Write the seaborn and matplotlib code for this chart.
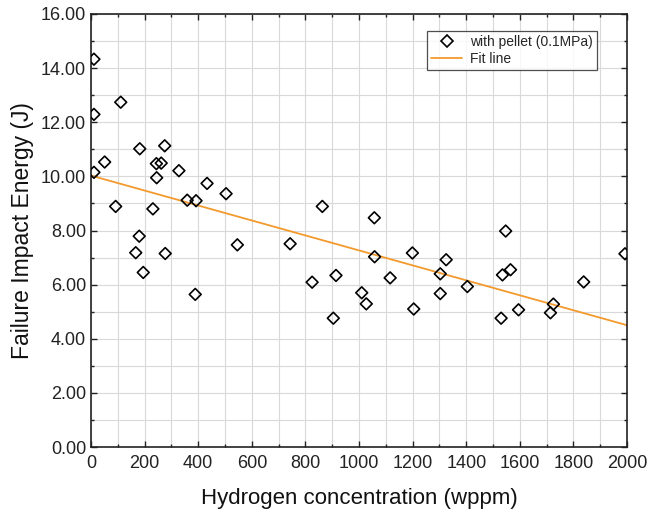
import matplotlib
matplotlib.use("Agg")
import matplotlib.pyplot as plt
from matplotlib.lines import Line2D
from matplotlib.ticker import MultipleLocator, FormatStrFormatter
import seaborn as sns
import pandas as pd

# Measured points (hydrogen concentration vs failure impact energy)
h_conc = [11, 11, 111, 11, 51, 92, 182, 275, 244, 262, 245, 328, 231, 359, 392,
          433, 504, 863, 180, 167, 195, 277, 389, 546, 743, 825, 914, 904, 1010,
          1027, 1057, 1058, 1116, 1199, 1204, 1303, 1325, 1303, 1404, 1530, 1535,
          1547, 1565, 1595, 1714, 1725, 1838, 1992]
energy = [14.33, 12.29, 12.74, 10.15, 10.53, 8.89, 11.02, 11.13, 10.47, 10.49,
          9.95, 10.21, 8.80, 9.12, 9.10, 9.74, 9.36, 8.89, 7.79, 7.18, 6.45, 7.15,
          5.64, 7.47, 7.51, 6.09, 6.34, 4.76, 5.70, 5.29, 8.47, 7.03, 6.25, 7.17,
          5.10, 6.40, 6.92, 5.67, 5.93, 4.76, 6.36, 7.98, 6.55, 5.07, 4.96, 5.28,
          6.10, 7.14]

# Linear fit line
fit_x = [0, 2000]
fit_y = [10.03, 4.50]

df = pd.DataFrame({"h": h_conc, "e": energy})
fit_df = pd.DataFrame({"h": fit_x, "e": fit_y})

sns.set_theme(style="ticks")
plt.rcParams["font.family"] = ["Liberation Sans", "DejaVu Sans"]

fig = plt.figure(figsize=(6.66, 5.18), dpi=100)
ax = fig.add_axes([0.1366, 0.137, 0.805, 0.836])

fit_color = "#F39A2E"
sns.lineplot(data=fit_df, x="h", y="e", color=fit_color, linewidth=1.3, ax=ax, zorder=2)
sns.scatterplot(data=df, x="h", y="e", marker="D", s=36, facecolor="none",
                edgecolor="black", linewidth=1.2, ax=ax, zorder=3)

ax.set_xlim(0, 2000)
ax.set_ylim(0, 16)
ax.xaxis.set_major_locator(MultipleLocator(200))
ax.xaxis.set_minor_locator(MultipleLocator(100))
ax.yaxis.set_major_locator(MultipleLocator(2))
ax.yaxis.set_minor_locator(MultipleLocator(1))
ax.yaxis.set_major_formatter(FormatStrFormatter("%.2f"))

ax.grid(True, which="both", color="#d9d9d9", linewidth=0.8)
ax.set_axisbelow(True)
for sp in ax.spines.values():
    sp.set_visible(True)
    sp.set_color("#222222")
    sp.set_linewidth(1.2)
ax.tick_params(which="both", direction="in", top=True, right=True, colors="#222222",
               labelcolor="#222222", labelsize=13, width=1.0)
ax.tick_params(which="major", length=4.5)
ax.tick_params(which="minor", length=2.5)
ax.tick_params(axis="x", pad=6)

ax.set_xlabel("Hydrogen concentration (wppm)", fontsize=16, color="#111111", labelpad=11)
ax.set_ylabel("Failure Impact Energy (J)", fontsize=16.5, color="#111111", labelpad=5)

handles = [
    Line2D([], [], marker="D", linestyle="none", markerfacecolor="none",
           markeredgecolor="black", markersize=6, markeredgewidth=1.2),
    Line2D([], [], color=fit_color, linewidth=1.3),
]
leg = ax.legend(handles, ["with pellet (0.1MPa)", "Fit line"], loc="upper right",
                bbox_to_anchor=(0.944, 0.961), borderaxespad=0, fontsize=10,
                frameon=True, fancybox=False, borderpad=0.3, labelspacing=0.2,
                handlelength=2.2, handletextpad=0.6)
leg.get_frame().set_edgecolor("#222222")
leg.get_frame().set_linewidth(0.9)

fig.savefig("out.png", dpi=100)
